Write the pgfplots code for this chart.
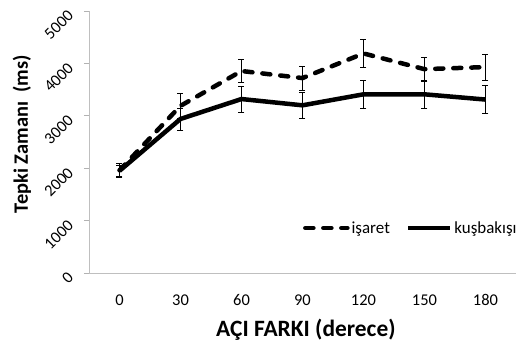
\documentclass[border=0pt]{standalone}
\usepackage{fontspec}
\setmainfont{Carlito}[Numbers=Lining]
\usepackage{pgfplots}
\pgfplotsset{compat=1.18}
\begin{document}
\begin{tikzpicture}
\path[use as bounding box] (-89bp,-78bp) rectangle (427bp,273bp);
\begin{axis}[
  scale only axis, width=427bp, height=262bp,
  at={(0,0)}, anchor=south west,
  xmin=-0.5, xmax=6.5, ymin=0, ymax=5000,
  xtick={0,...,6}, xticklabels={0,30,60,90,120,150,180},
  ytick={0,1000,...,5000},
  axis lines*=left,
  axis line style={draw=black!25, line width=1pt},
  tick align=outside,
  major tick length=5bp,
  ytick style={draw=black!30, line width=0.8pt},
  xtick style={draw=none},
  scaled y ticks=false,
  /pgf/number format/assume math mode=true,
  /pgf/number format/1000 sep={},
  yticklabel style={rotate=45, anchor=east, font=\fontsize{16.5}{18}\selectfont, inner sep=1bp, yshift=-2bp},
  yticklabel shift=14bp,
  xticklabel style={font=\fontsize{16.5}{18}\selectfont, anchor=base, yshift=-27bp},
  xlabel={\textbf{AÇI FARKI (derece)}},
  ylabel={\textbf{Tepki Zamanı\ \ (ms)}},
  xlabel style={font=\fontsize{23.5}{26}\selectfont, at={(axis description cs:0.508,-0.215)}, anchor=center},
  ylabel style={font=\fontsize{20.5}{24}\selectfont, at={(axis description cs:-0.157,0.53)}, anchor=center},
  legend style={draw=none, fill=none, at={(rel axis cs:0.501,0.172)}, anchor=west, inner sep=0pt,
    font=\fontsize{17}{19}\selectfont, cells={anchor=west},
    /tikz/every odd column/.append style={column sep=0bp},
    /tikz/every even column/.append style={column sep=14bp}},
  legend columns=2,
  legend image code/.code={\draw[#1] (0bp,0bp) -- (42bp,0bp);},
  clip=false,
]
\addplot[black, line width=4.5bp, line cap=round, dash pattern=on 8bp off 10bp,
  error bars/.cd, y dir=both, y explicit,
  error bar style={line width=0.6pt, black, solid, line cap=butt},
  error mark options={rotate=90, mark size=3bp, line width=0.6pt, solid}]
  table[x=x, y=y, y error=e] {
x y e
0 1960 130
1 3190 230
2 3855 220
3 3720 230
4 4190 265
5 3890 230
6 3930 250
};
\addlegendentry{işaret}
\addplot[black, line width=4.5bp,
  error bars/.cd, y dir=both, y explicit,
  error bar style={line width=0.6pt, black, solid},
  error mark options={rotate=90, mark size=3bp, line width=0.6pt, solid}]
  table[x=x, y=y, y error=e] {
x y e
0 1950 110
1 2940 210
2 3320 250
3 3200 240
4 3410 275
5 3410 260
6 3310 265
};
\addlegendentry{kuşbakışı}
\end{axis}
\end{tikzpicture}
\end{document}
